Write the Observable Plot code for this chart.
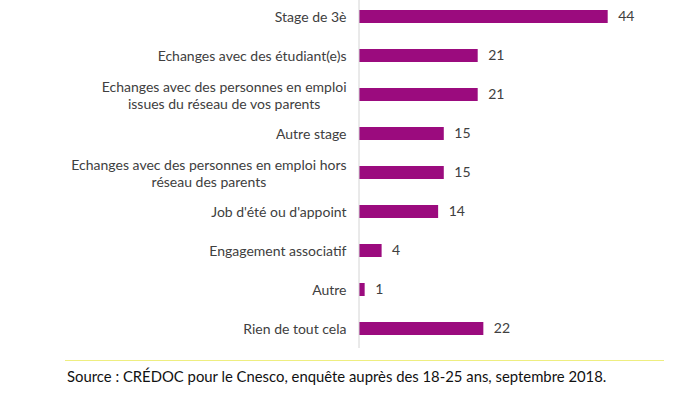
<!DOCTYPE html>
<html>
<head>
<meta charset="utf-8">
<script src="https://cdn.jsdelivr.net/npm/d3@7"></script>
<script src="https://cdn.jsdelivr.net/npm/@observablehq/plot@0.6"></script>
<style>
  body { margin: 0; background: #fff; }
  #chart svg { display: block; }
  #source {
    margin-left: 65px; width: 597px; margin-top: 10px;
    border-top: 1px solid #eeee80;
    padding-top: 6px; padding-left: 2px;
    font-family: Lato, sans-serif; font-size: 14.85px; color: #111; line-height: 18px;
  }
</style>
</head>
<body>
<div id="chart"></div>
<div id="source">Source : CRÉDOC pour le Cnesco, enquête auprès des 18-25 ans, septembre 2018.</div>
<script>
const categories = [
  "Stage de 3è",
  "Echanges avec des étudiant(e)s",
  "Echanges avec des personnes en emploi\nissues du réseau de vos parents",
  "Autre stage",
  "Echanges avec des personnes en emploi hors\nréseau des parents",
  "Job d'été ou d'appoint",
  "Engagement associatif",
  "Autre",
  "Rien de tout cela"
];
const values = [44, 21, 21, 15, 15, 14, 4, 1, 22];

const data = categories.map((c, i) => ({category: c, value: values[i]}));

const chart = Plot.plot({
  width: 699,
  height: 350,
  marginTop: 0,
  marginBottom: 2,
  marginLeft: 358,
  marginRight: 0,
  style: {fontFamily: "Lato, sans-serif", fontSize: "14px", color: "#404040", background: "#fff"},
  x: {domain: [0, 50], range: [359, 641.6], axis: null},
  y: {domain: categories, range: [5.3, 340.7], paddingInner: 0.656, paddingOuter: 0.1, axis: null},
  marks: [
    Plot.barX(data, {x: "value", y: "category", fill: "#9b0b7e"}),
    Plot.ruleX([0], {stroke: "#d4d4d4", strokeWidth: 1, dx: -0.5}),
    Plot.text(data, {x: "value", y: "category", text: d => String(d.value), textAnchor: "start", dx: 10, fill: "#404040", fontSize: 14}),
    Plot.axisY({anchor: "left", tickSize: 0, tickPadding: 12, fontSize: 14, lineHeight: 1.2, textAnchor: "end", fill: "#404040", label: null})
  ]
});
document.getElementById("chart").appendChild(chart);

// Center the lines of multi-line category labels within their right-aligned block
chart.querySelectorAll('g[aria-label="y-axis tick label"] text').forEach(t => {
  const spans = t.querySelectorAll("tspan");
  if (spans.length > 1) {
    const w = t.getBBox().width;
    t.setAttribute("text-anchor", "middle");
    spans.forEach(s => s.setAttribute("x", -w / 2));
  }
});
</script>
</body>
</html>
